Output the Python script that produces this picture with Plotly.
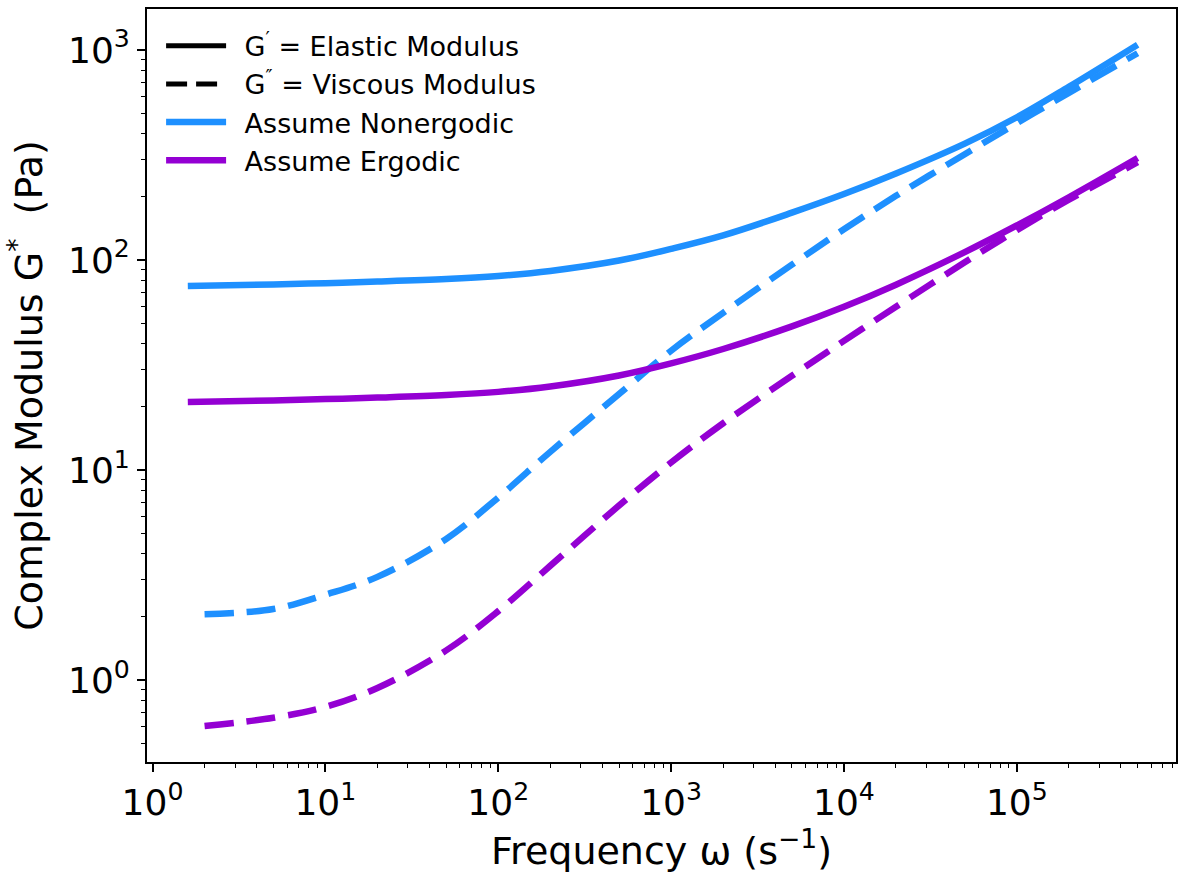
import plotly.graph_objects as go

# Angular frequency samples (s^-1) for the storage (G') and loss (G'') curves
omega_storage = [1.6, 5, 10, 20, 50, 100, 200, 500, 1e3, 2e3, 5e3, 1e4, 2e4, 5e4, 1e5, 2e5, 5e5]
omega_loss = [2, 5, 10, 20, 50, 100, 200, 500, 1e3, 2e3, 5e3, 1e4, 2e4, 5e4, 1e5, 2e5, 5e5]

# Nonergodic assumption (Pa)
nonergodic_storage = [75.2, 76.5, 77.6, 78.9, 81.1, 83.9, 88.7, 99.4, 113, 131, 168, 206, 258, 358, 478, 668, 1060]
nonergodic_loss = [2.06, 2.18, 2.55, 3.10, 4.70, 7.40, 12.2, 23.0, 37.0, 56.0, 95.0, 140, 202, 319, 448, 625, 965]

# Ergodic assumption (Pa)
ergodic_storage = [21.1, 21.46, 21.76, 22.14, 22.76, 23.56, 25.0, 28.2, 32.2, 37.7, 48.3, 59.9, 76.3, 109, 146, 199, 306]
ergodic_loss = [0.604, 0.662, 0.745, 0.917, 1.385, 2.13, 3.50, 6.78, 10.86, 16.7, 28.1, 41.2, 59.9, 97.5, 138.8, 193.6, 292]

# Axis ticks
major_exponents = [0, 1, 2, 3, 4, 5]
y_major_exponents = [0, 1, 2, 3]

BLUE = "#1E90FF"
PURPLE = "#9400D3"
FONT = "DejaVu Sans"
LW = 6.5
DASH = "29px,13px"
GAP = "\u2002"  # extra space between legend swatch and label

fig = go.Figure()

# Legend-only entries describing line styles
fig.add_trace(go.Scatter(x=[None], y=[None], mode="lines", name=GAP + "G<sup>′</sup> = Elastic Modulus",
                         line=dict(color="black", width=5)))
fig.add_trace(go.Scatter(x=[None], y=[None], mode="lines", name=GAP + "G<sup>″</sup> = Viscous Modulus",
                         line=dict(color="black", width=5, dash="21px,9px")))

fig.add_trace(go.Scatter(x=omega_storage, y=nonergodic_storage, mode="lines", name=GAP + "Assume Nonergodic",
                         line=dict(color=BLUE, width=LW, shape="spline", smoothing=1)))
fig.add_trace(go.Scatter(x=omega_loss, y=nonergodic_loss, mode="lines", showlegend=False,
                         line=dict(color=BLUE, width=LW, dash=DASH, shape="spline", smoothing=1)))
fig.add_trace(go.Scatter(x=omega_storage, y=ergodic_storage, mode="lines", name=GAP + "Assume Ergodic",
                         line=dict(color=PURPLE, width=LW, shape="spline", smoothing=1)))
fig.add_trace(go.Scatter(x=omega_loss, y=ergodic_loss, mode="lines", showlegend=False,
                         line=dict(color=PURPLE, width=LW, dash=DASH, shape="spline", smoothing=1)))


def minor_vals(lo, hi):
    return [m * 10 ** e for e in range(lo, hi) for m in range(2, 10)]


fig.update_xaxes(
    type="log", range=[-0.032, 5.921],
    tickvals=[10 ** e for e in major_exponents],
    ticktext=[f"10<sup>{e}</sup>" for e in major_exponents],
    ticks="outside", ticklen=8, tickwidth=1.5, tickcolor="black",
    minor=dict(tickvals=minor_vals(0, 6), ticks="outside", ticklen=4, tickwidth=1, tickcolor="black"),
    showline=True, linecolor="black", linewidth=1.8, mirror=True,
    showgrid=False, zeroline=False,
    tickfont=dict(family=FONT, size=36, color="black"),
    title=dict(text="Frequency ω (s<sup>−1</sup>)", font=dict(family=FONT, size=38, color="black"), standoff=11),
)
fig.update_yaxes(
    type="log", range=[-0.390, 3.195],
    tickvals=[10 ** e for e in y_major_exponents],
    ticktext=[f"10<sup>{e}</sup>" for e in y_major_exponents],
    ticks="outside", ticklen=8, tickwidth=1.5, tickcolor="black",
    minor=dict(tickvals=minor_vals(-1, 4), ticks="outside", ticklen=4, tickwidth=1, tickcolor="black"),
    showline=True, linecolor="black", linewidth=1.8, mirror=True,
    showgrid=False, zeroline=False,
    tickfont=dict(family=FONT, size=36, color="black"),
    title=dict(text="Complex Modulus G<sup>*</sup>  (Pa)", font=dict(family=FONT, size=38, color="black"), standoff=14),
)

fig.update_layout(
    width=1179, height=873,
    margin=dict(l=147, r=1, t=9, b=111),
    paper_bgcolor="white", plot_bgcolor="white",
    font=dict(family=FONT, color="black"),
    legend=dict(x=0.0137, y=0.983, xanchor="left", yanchor="top",
                font=dict(family=FONT, size=27, color="black"),
                bgcolor="rgba(255,255,255,0)", itemwidth=60),
)

fig.write_html("out.html")
